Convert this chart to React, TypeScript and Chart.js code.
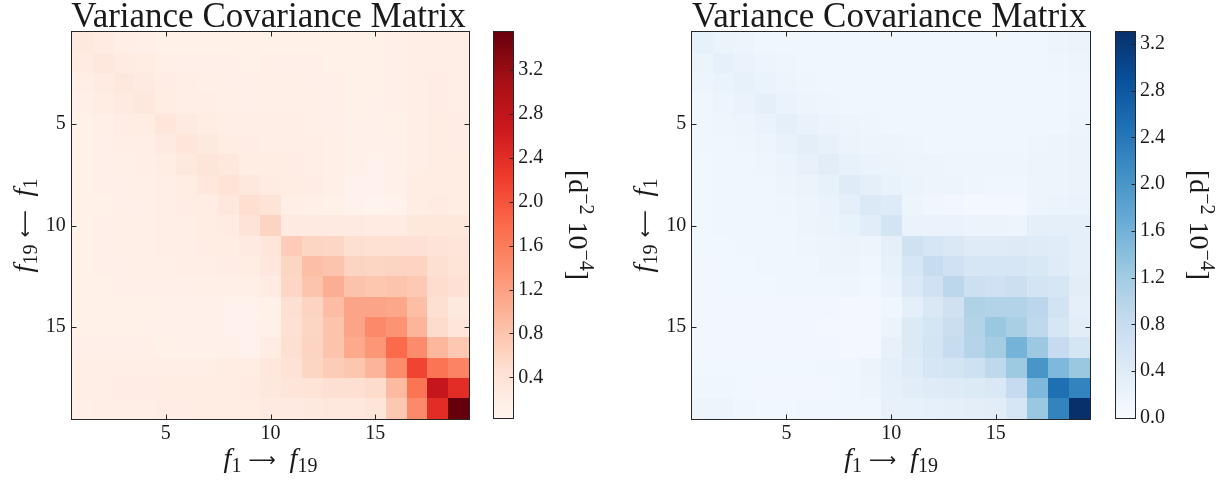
import React, { useEffect, useRef } from "react";
import { Chart, registerables } from "chart.js";

Chart.register(...registerables);

// ---------------- data ----------------
const titleText = "Variance Covariance Matrix";
const axisTickValues = [5, 10, 15];
const redColorbarTicks = [0.4, 0.8, 1.2, 1.6, 2.0, 2.4, 2.8, 3.2];
const blueColorbarTicks = [0.0, 0.4, 0.8, 1.2, 1.6, 2.0, 2.4, 2.8, 3.2];
const redRange = [0.026, 3.55];
const blueRange = [0.0, 3.3];

const covRed: number[][] = [
  [0.27, 0.23, 0.18, 0.15, 0.14, 0.14, 0.14, 0.14, 0.14, 0.14, 0.14, 0.14, 0.14, 0.14, 0.14, 0.15, 0.17, 0.18, 0.17],
  [0.23, 0.31, 0.24, 0.20, 0.16, 0.15, 0.15, 0.15, 0.14, 0.15, 0.15, 0.15, 0.14, 0.14, 0.14, 0.15, 0.17, 0.18, 0.17],
  [0.18, 0.24, 0.30, 0.26, 0.19, 0.17, 0.16, 0.15, 0.15, 0.16, 0.16, 0.15, 0.15, 0.14, 0.14, 0.15, 0.18, 0.19, 0.17],
  [0.15, 0.20, 0.26, 0.30, 0.22, 0.18, 0.17, 0.16, 0.15, 0.16, 0.16, 0.16, 0.15, 0.14, 0.13, 0.15, 0.18, 0.19, 0.18],
  [0.14, 0.16, 0.19, 0.22, 0.34, 0.25, 0.20, 0.18, 0.17, 0.17, 0.17, 0.16, 0.15, 0.13, 0.13, 0.14, 0.18, 0.20, 0.19],
  [0.14, 0.15, 0.17, 0.18, 0.25, 0.35, 0.27, 0.22, 0.19, 0.18, 0.18, 0.17, 0.16, 0.12, 0.12, 0.13, 0.18, 0.20, 0.19],
  [0.14, 0.15, 0.16, 0.17, 0.20, 0.27, 0.37, 0.29, 0.22, 0.20, 0.19, 0.18, 0.16, 0.11, 0.10, 0.12, 0.18, 0.21, 0.20],
  [0.14, 0.15, 0.15, 0.16, 0.18, 0.22, 0.29, 0.41, 0.31, 0.23, 0.21, 0.19, 0.16, 0.10, 0.09, 0.11, 0.20, 0.22, 0.21],
  [0.14, 0.14, 0.15, 0.15, 0.17, 0.19, 0.22, 0.31, 0.48, 0.40, 0.18, 0.16, 0.14, 0.08, 0.07, 0.10, 0.22, 0.24, 0.22],
  [0.14, 0.15, 0.16, 0.16, 0.17, 0.18, 0.20, 0.23, 0.38, 0.62, 0.25, 0.25, 0.25, 0.25, 0.24, 0.24, 0.33, 0.33, 0.33],
  [0.14, 0.15, 0.16, 0.16, 0.17, 0.18, 0.19, 0.21, 0.25, 0.34, 0.70, 0.60, 0.58, 0.46, 0.45, 0.45, 0.44, 0.38, 0.36],
  [0.14, 0.15, 0.15, 0.16, 0.16, 0.17, 0.18, 0.19, 0.21, 0.30, 0.60, 0.86, 0.80, 0.62, 0.60, 0.62, 0.62, 0.46, 0.40],
  [0.14, 0.14, 0.15, 0.15, 0.15, 0.15, 0.16, 0.16, 0.16, 0.24, 0.58, 0.80, 1.05, 0.82, 0.78, 0.80, 0.74, 0.50, 0.44],
  [0.14, 0.14, 0.14, 0.14, 0.13, 0.12, 0.11, 0.10, 0.09, 0.14, 0.46, 0.62, 0.88, 1.15, 1.15, 1.12, 0.86, 0.47, 0.28],
  [0.14, 0.14, 0.14, 0.13, 0.13, 0.12, 0.11, 0.09, 0.08, 0.12, 0.45, 0.60, 0.80, 1.15, 1.45, 1.33, 0.97, 0.52, 0.35],
  [0.15, 0.15, 0.15, 0.15, 0.14, 0.13, 0.12, 0.11, 0.10, 0.20, 0.46, 0.62, 0.80, 1.10, 1.30, 1.78, 1.42, 0.95, 0.75],
  [0.17, 0.17, 0.18, 0.18, 0.18, 0.18, 0.18, 0.20, 0.22, 0.30, 0.42, 0.60, 0.70, 0.78, 0.97, 1.42, 2.15, 1.67, 1.50],
  [0.17, 0.18, 0.19, 0.19, 0.20, 0.20, 0.21, 0.22, 0.24, 0.32, 0.36, 0.40, 0.47, 0.47, 0.52, 0.92, 1.67, 2.75, 2.40],
  [0.16, 0.17, 0.17, 0.18, 0.19, 0.19, 0.20, 0.21, 0.22, 0.26, 0.25, 0.27, 0.30, 0.32, 0.36, 0.75, 1.45, 2.40, 3.55],
];

const covBlue: number[][] = [
  [0.27, 0.20, 0.16, 0.14, 0.13, 0.13, 0.13, 0.13, 0.13, 0.13, 0.13, 0.13, 0.13, 0.13, 0.13, 0.13, 0.14, 0.16, 0.19],
  [0.20, 0.28, 0.21, 0.18, 0.15, 0.14, 0.13, 0.13, 0.13, 0.13, 0.13, 0.13, 0.13, 0.13, 0.13, 0.13, 0.14, 0.15, 0.16],
  [0.16, 0.21, 0.27, 0.22, 0.17, 0.15, 0.14, 0.13, 0.13, 0.13, 0.13, 0.13, 0.13, 0.13, 0.13, 0.13, 0.13, 0.14, 0.15],
  [0.14, 0.18, 0.22, 0.30, 0.22, 0.17, 0.15, 0.14, 0.13, 0.13, 0.13, 0.13, 0.13, 0.13, 0.13, 0.13, 0.13, 0.14, 0.15],
  [0.13, 0.15, 0.17, 0.22, 0.31, 0.23, 0.19, 0.16, 0.15, 0.14, 0.14, 0.13, 0.13, 0.13, 0.13, 0.13, 0.13, 0.14, 0.16],
  [0.12, 0.14, 0.15, 0.17, 0.23, 0.33, 0.25, 0.20, 0.18, 0.16, 0.15, 0.14, 0.14, 0.14, 0.14, 0.14, 0.15, 0.17, 0.19],
  [0.11, 0.13, 0.14, 0.15, 0.19, 0.25, 0.35, 0.27, 0.22, 0.19, 0.17, 0.16, 0.15, 0.15, 0.15, 0.15, 0.16, 0.18, 0.19],
  [0.11, 0.12, 0.13, 0.14, 0.16, 0.20, 0.27, 0.39, 0.30, 0.24, 0.19, 0.17, 0.16, 0.15, 0.14, 0.14, 0.16, 0.18, 0.20],
  [0.11, 0.12, 0.12, 0.13, 0.15, 0.18, 0.22, 0.30, 0.47, 0.43, 0.16, 0.13, 0.10, 0.08, 0.07, 0.09, 0.16, 0.19, 0.21],
  [0.11, 0.12, 0.12, 0.13, 0.14, 0.16, 0.19, 0.24, 0.36, 0.60, 0.21, 0.21, 0.21, 0.20, 0.20, 0.18, 0.30, 0.30, 0.30],
  [0.11, 0.11, 0.12, 0.12, 0.13, 0.15, 0.17, 0.19, 0.16, 0.32, 0.66, 0.53, 0.48, 0.40, 0.40, 0.42, 0.40, 0.38, 0.30],
  [0.10, 0.11, 0.11, 0.12, 0.12, 0.14, 0.16, 0.17, 0.13, 0.27, 0.53, 0.80, 0.67, 0.55, 0.55, 0.55, 0.50, 0.40, 0.30],
  [0.10, 0.11, 0.11, 0.11, 0.12, 0.13, 0.14, 0.15, 0.11, 0.22, 0.46, 0.67, 0.93, 0.70, 0.67, 0.72, 0.60, 0.55, 0.35],
  [0.10, 0.10, 0.10, 0.10, 0.10, 0.10, 0.10, 0.09, 0.07, 0.13, 0.32, 0.48, 0.66, 1.05, 1.03, 1.03, 0.93, 0.62, 0.30],
  [0.10, 0.10, 0.10, 0.10, 0.10, 0.10, 0.09, 0.08, 0.07, 0.20, 0.45, 0.58, 0.76, 1.02, 1.27, 1.12, 0.90, 0.55, 0.35],
  [0.10, 0.10, 0.10, 0.10, 0.10, 0.10, 0.10, 0.09, 0.09, 0.25, 0.45, 0.60, 0.80, 1.00, 1.18, 1.57, 1.25, 0.83, 0.58],
  [0.11, 0.11, 0.11, 0.11, 0.11, 0.11, 0.12, 0.14, 0.20, 0.32, 0.40, 0.55, 0.60, 0.68, 0.90, 1.24, 2.00, 1.50, 1.27],
  [0.12, 0.12, 0.11, 0.10, 0.10, 0.10, 0.11, 0.12, 0.16, 0.28, 0.35, 0.40, 0.42, 0.45, 0.48, 0.83, 1.50, 2.50, 2.25],
  [0.17, 0.16, 0.13, 0.11, 0.11, 0.12, 0.12, 0.13, 0.14, 0.25, 0.27, 0.28, 0.30, 0.33, 0.35, 0.55, 1.27, 2.25, 3.30],
];

// ---------------- colormaps (matplotlib Reds / Blues anchors) ----------------
const REDS = ["#fff5f0", "#fee0d2", "#fcbba1", "#fc9272", "#fb6a4a", "#ef3b2c", "#cb181d", "#a50f15", "#67000d"];
const BLUES = ["#f7fbff", "#deebf7", "#c6dbef", "#9ecae1", "#6baed6", "#4292c6", "#2171b5", "#08519c", "#08306b"];

function hexRgb(h: string): number[] {
  const n = parseInt(h.slice(1), 16);
  return [(n >> 16) & 255, (n >> 8) & 255, n & 255];
}
function colorAt(anchors: string[], t: number): string {
  const c = Math.min(1, Math.max(0, t)) * (anchors.length - 1);
  const i = Math.min(anchors.length - 2, Math.floor(c));
  const f = c - i;
  const a = hexRgb(anchors[i]);
  const b = hexRgb(anchors[i + 1]);
  return `rgb(${a.map((v, k) => Math.round(v + (b[k] - v) * f)).join(",")})`;
}

// ---------------- text helpers ----------------
const SERIF = '"Liberation Serif", "DejaVu Serif", serif';
type Part = { text: string; font: string; dy?: number };
const mainF = `28px ${SERIF}`;
const mainI = `italic 28px ${SERIF}`;
const smallF = `20px ${SERIF}`;
const arrowF = `19px "DejaVu Sans", sans-serif`;

const xLabelParts: Part[] = [
  { text: "f", font: mainI },
  { text: "1", font: smallF, dy: 5 },
  { text: " ", font: mainF },
  { text: "\u27F6", font: arrowF, dy: -1 },
  { text: "  ", font: mainF },
  { text: "f", font: mainI },
  { text: "19", font: smallF, dy: 5 },
];
const yLabelParts: Part[] = [
  { text: "f", font: mainI },
  { text: "19", font: smallF, dy: 5 },
  { text: " ", font: mainF },
  { text: "\u27F5", font: arrowF, dy: -1 },
  { text: "  ", font: mainF },
  { text: "f", font: mainI },
  { text: "1", font: smallF, dy: 5 },
];
const unitParts: Part[] = [
  { text: "[d", font: mainF },
  { text: "\u22122", font: smallF, dy: -11 },
  { text: " 10", font: mainF },
  { text: "\u22124", font: smallF, dy: -11 },
  { text: "]", font: mainF },
];

function drawParts(ctx: CanvasRenderingContext2D, parts: Part[], cx: number, cy: number, rotation: number) {
  ctx.save();
  ctx.translate(cx, cy);
  ctx.rotate(rotation);
  ctx.textAlign = "left";
  ctx.textBaseline = "alphabetic";
  const widths = parts.map((p) => {
    ctx.font = p.font;
    return ctx.measureText(p.text).width;
  });
  const total = widths.reduce((s, w) => s + w, 0);
  let x = -total / 2;
  parts.forEach((p, i) => {
    ctx.font = p.font;
    ctx.fillText(p.text, x, p.dy || 0);
    x += widths[i];
  });
  ctx.restore();
}

const INK = "#1a1a1a";
const FRAME = "#262626";

// ---------------- heatmap ----------------
type HeatProps = {
  canvasLeft: number;
  canvasWidth: number;
  plotLeft: number;
  plotRight: number;
  plotTop: number;
  plotBottom: number;
  matrix: number[][];
  anchors: string[];
  range: number[];
};

function Heatmap(props: HeatProps) {
  const ref = useRef<HTMLCanvasElement>(null);
  useEffect(() => {
    const { canvasLeft, canvasWidth, plotLeft, plotRight, plotTop, plotBottom, matrix, anchors, range } = props;
    const points: { x: number; y: number; v: number }[] = [];
    matrix.forEach((row, i) => row.forEach((v, j) => points.push({ x: j + 1, y: i + 1, v })));
    const n = matrix.length;

    const cellPlugin = {
      id: "heatCells",
      beforeDatasetsDraw(chart: any) {
        const { ctx, scales } = chart;
        const xs = scales.x;
        const ys = scales.y;
        ctx.save();
        for (const p of points) {
          const xa = Math.round(xs.getPixelForValue(p.x - 0.5));
          const xb = Math.round(xs.getPixelForValue(p.x + 0.5));
          const ya = Math.round(ys.getPixelForValue(p.y - 0.5));
          const yb = Math.round(ys.getPixelForValue(p.y + 0.5));
          ctx.fillStyle = colorAt(anchors, (p.v - range[0]) / (range[1] - range[0]));
          ctx.fillRect(Math.min(xa, xb), Math.min(ya, yb), Math.abs(xb - xa), Math.abs(yb - ya));
        }
        ctx.restore();
      },
      afterDraw(chart: any) {
        const { ctx, chartArea: a, scales } = chart;
        const xs = scales.x;
        const ys = scales.y;
        ctx.save();
        ctx.strokeStyle = FRAME;
        ctx.lineWidth = 1;
        const L = Math.round(a.left) - 0.5;
        const R = Math.round(a.right) + 0.5;
        const T = Math.round(a.top) - 0.5;
        const B = Math.round(a.bottom) + 0.5;
        ctx.strokeRect(L, T, R - L, B - T);
        ctx.beginPath();
        for (const v of axisTickValues) {
          const px = Math.round(xs.getPixelForValue(v)) + 0.5;
          ctx.moveTo(px, B);
          ctx.lineTo(px, B - 5);
          ctx.moveTo(px, T);
          ctx.lineTo(px, T + 5);
          const py = Math.round(ys.getPixelForValue(v)) + 0.5;
          ctx.moveTo(L, py);
          ctx.lineTo(L + 5, py);
          ctx.moveTo(R, py);
          ctx.lineTo(R - 5, py);
        }
        ctx.stroke();

        ctx.fillStyle = INK;
        ctx.font = `35px ${SERIF}`;
        ctx.textAlign = "center";
        ctx.textBaseline = "alphabetic";
        ctx.fillText(titleText, (a.left + a.right) / 2 - 2, 27);

        drawParts(ctx, xLabelParts, (a.left + a.right) / 2, 467, 0);
        drawParts(ctx, yLabelParts, a.left - 40, (a.top + a.bottom) / 2, -Math.PI / 2);
        ctx.restore();
      },
    };

    const chart = new Chart(ref.current as HTMLCanvasElement, {
      type: "scatter",
      data: {
        datasets: [{ data: points as any, pointRadius: 0, pointHoverRadius: 0 }],
      },
      options: {
        responsive: false,
        animation: false,
        devicePixelRatio: 1,
        events: [],
        layout: {
          padding: { top: plotTop, right: canvasWidth - (plotRight - canvasLeft), left: 0, bottom: 0 },
        },
        plugins: { legend: { display: false }, tooltip: { enabled: false } },
        scales: {
          x: {
            type: "linear",
            position: "bottom",
            min: 0.5,
            max: n + 0.5,
            bounds: "data",
            grid: { display: false, drawTicks: false },
            border: { display: false },
            ticks: {
              padding: 3,
              color: INK,
              font: { family: SERIF, size: 20 },
              autoSkip: false,
              maxRotation: 0,
              callback: (v: any) => String(v),
            },
            afterBuildTicks: (s: any) => {
              s.ticks = axisTickValues.map((v) => ({ value: v }));
            },
            afterFit: (s: any) => {
              s.height = 480 - plotBottom;
            },
          },
          y: {
            type: "linear",
            position: "left",
            reverse: true,
            min: 0.5,
            max: n + 0.5,
            bounds: "data",
            grid: { display: false, drawTicks: false },
            border: { display: false },
            ticks: {
              padding: 6,
              color: INK,
              font: { family: SERIF, size: 20 },
              autoSkip: false,
              callback: (v: any) => String(v),
            },
            afterBuildTicks: (s: any) => {
              s.ticks = axisTickValues.map((v) => ({ value: v }));
            },
            afterFit: (s: any) => {
              s.width = plotLeft - canvasLeft;
            },
          },
        },
      } as any,
      plugins: [cellPlugin],
    });
    return () => chart.destroy();
  }, []);
  return (
    <canvas
      ref={ref}
      width={props.canvasWidth}
      height={480}
      style={{ position: "absolute", left: props.canvasLeft, top: 0, width: props.canvasWidth, height: 480 }}
    />
  );
}

// ---------------- colorbar ----------------
type BarProps = {
  canvasLeft: number;
  canvasWidth: number;
  barLeft: number;
  barRight: number;
  barTop: number;
  barBottom: number;
  labelX: number;
  anchors: string[];
  range: number[];
  ticks: number[];
};

function Colorbar(props: BarProps) {
  const ref = useRef<HTMLCanvasElement>(null);
  useEffect(() => {
    const { canvasLeft, canvasWidth, barLeft, barRight, barTop, barBottom, labelX, anchors, range, ticks } = props;
    const barPlugin = {
      id: "colorbarFill",
      beforeDatasetsDraw(chart: any) {
        const { ctx, chartArea: a, scales } = chart;
        const ys = scales.y;
        ctx.save();
        const L = Math.round(a.left);
        const R = Math.round(a.right);
        for (let py = Math.round(a.top); py < Math.round(a.bottom); py++) {
          const v = ys.getValueForPixel(py + 0.5);
          ctx.fillStyle = colorAt(anchors, (v - range[0]) / (range[1] - range[0]));
          ctx.fillRect(L, py, R - L, 1);
        }
        ctx.restore();
      },
      afterDraw(chart: any) {
        const { ctx, chartArea: a, scales } = chart;
        const ys = scales.y;
        ctx.save();
        ctx.strokeStyle = FRAME;
        ctx.lineWidth = 1;
        const L = Math.round(a.left) - 0.5;
        const R = Math.round(a.right) + 0.5;
        const T = Math.round(a.top) - 0.5;
        const B = Math.round(a.bottom) + 0.5;
        ctx.strokeRect(L, T, R - L, B - T);
        ctx.beginPath();
        for (const v of ticks) {
          const py = Math.round(ys.getPixelForValue(v)) + 0.5;
          ctx.moveTo(R, py);
          ctx.lineTo(R - 4, py);
        }
        ctx.stroke();
        ctx.fillStyle = INK;
        drawParts(ctx, unitParts, labelX - canvasLeft, (a.top + a.bottom) / 2, Math.PI / 2);
        ctx.restore();
      },
    };
    const chart = new Chart(ref.current as HTMLCanvasElement, {
      type: "scatter",
      data: { datasets: [{ data: [] }] },
      options: {
        responsive: false,
        animation: false,
        devicePixelRatio: 1,
        events: [],
        layout: { padding: { top: barTop, bottom: 480 - barBottom, left: barLeft - canvasLeft, right: 0 } },
        plugins: { legend: { display: false }, tooltip: { enabled: false } },
        scales: {
          x: { type: "linear", display: false, min: 0, max: 1 },
          y: {
            type: "linear",
            position: "right",
            min: range[0],
            max: range[1],
            bounds: "data",
            grid: { display: false, drawTicks: false },
            border: { display: false },
            ticks: {
              padding: 5,
              color: INK,
              font: { family: SERIF, size: 20 },
              autoSkip: false,
              callback: (v: any) => Number(v).toFixed(1),
            },
            afterBuildTicks: (s: any) => {
              s.ticks = ticks.map((v) => ({ value: v }));
            },
            afterFit: (s: any) => {
              s.width = canvasWidth - (barRight - canvasLeft);
            },
          },
        },
      } as any,
      plugins: [barPlugin],
    });
    return () => chart.destroy();
  }, []);
  return (
    <canvas
      ref={ref}
      width={props.canvasWidth}
      height={480}
      style={{ position: "absolute", left: props.canvasLeft, top: 0, width: props.canvasWidth, height: 480 }}
    />
  );
}

export default function App() {
  return (
    <div style={{ position: "fixed", left: 0, top: 0, width: 1228, height: 480, background: "#fff", overflow: "hidden" }}>
      <Heatmap
        canvasLeft={0}
        canvasWidth={480}
        plotLeft={71.7}
        plotRight={469.3}
        plotTop={32.3}
        plotBottom={418.7}
        matrix={covRed}
        anchors={REDS}
        range={redRange}
      />
      <Colorbar
        canvasLeft={480}
        canvasWidth={134}
        barLeft={494}
        barRight={513.3}
        barTop={31.7}
        barBottom={418.3}
        labelX={569}
        anchors={REDS}
        range={redRange}
        ticks={redColorbarTicks}
      />
      <Heatmap
        canvasLeft={614}
        canvasWidth={486}
        plotLeft={692.3}
        plotRight={1090}
        plotTop={32.3}
        plotBottom={418.7}
        matrix={covBlue}
        anchors={BLUES}
        range={blueRange}
      />
      <Colorbar
        canvasLeft={1100}
        canvasWidth={128}
        barLeft={1115.7}
        barRight={1135}
        barTop={32.3}
        barBottom={417.7}
        labelX={1189.5}
        anchors={BLUES}
        range={blueRange}
        ticks={blueColorbarTicks}
      />
    </div>
  );
}
